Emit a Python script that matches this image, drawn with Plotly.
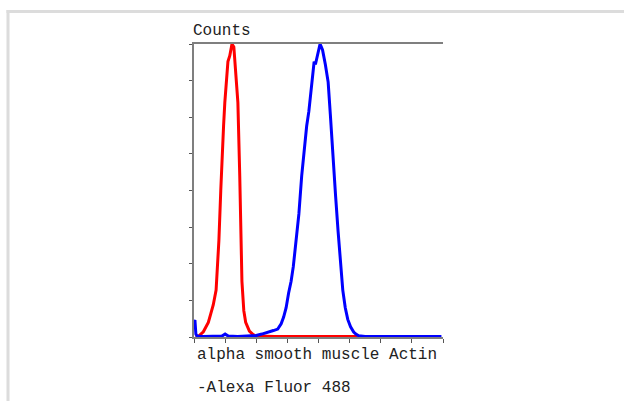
import plotly.graph_objects as go

# Fluorescence channel (arbitrary units, 8 decades on axis) and % of max counts
red_x = [0.05, 0.15, 0.30, 0.38, 0.46, 0.54, 0.62, 0.71, 0.80, 0.86, 0.90, 0.95, 0.99, 1.04, 1.09,
         1.15, 1.22, 1.28, 1.32, 1.35, 1.41, 1.47, 1.54, 1.60, 1.66, 1.78, 1.90, 2.00, 2.20, 2.60,
         3.00, 3.50, 4.00, 4.50, 5.00, 5.26]
red_y = [0.0, 0.3, 1.8, 3.4, 5.0, 8.0, 11.0, 16.0, 33.0, 50.0, 62.0, 72.0, 80.0, 88.0, 94.0,
         96.0, 100.0, 99.0, 94.0, 88.0, 80.0, 55.0, 19.0, 9.0, 5.0, 2.0, 0.8, 0.3, 0.2, 0.2,
         0.2, 0.2, 0.2, 0.2, 0.2, 0.2]

blue_x = [0.00, 0.03, 0.06, 0.10, 0.30, 0.60, 0.90, 1.00, 1.10, 1.40, 1.80, 2.00, 2.18, 2.40,
          2.55, 2.69, 2.80, 2.88, 2.96, 3.04, 3.12, 3.19, 3.28, 3.37, 3.46, 3.56, 3.62, 3.69,
          3.78, 3.86, 3.90, 3.94, 3.99, 4.05, 4.09, 4.13, 4.22, 4.31, 4.38, 4.46, 4.55, 4.63,
          4.70, 4.78, 4.86, 4.94, 5.03, 5.13, 5.20, 5.29, 5.50, 6.00, 6.50, 7.00, 7.50, 7.95]
blue_y = [5.0, 5.8, 1.0, 0.3, 0.2, 0.2, 0.3, 1.0, 0.3, 0.2, 0.3, 0.5, 1.0, 1.6,
          2.2, 2.7, 4.5, 6.8, 10.0, 15.0, 19.0, 24.0, 32.0, 42.0, 55.0, 67.0, 72.0, 77.0,
          86.0, 94.0, 93.0, 95.0, 97.0, 100.0, 99.0, 98.0, 93.0, 87.0, 76.0, 61.0, 48.0, 36.0,
          26.0, 16.0, 10.0, 6.0, 3.5, 1.7, 1.0, 0.4, 0.2, 0.2, 0.2, 0.2, 0.2, 0.2]

x_title_lines = ["alpha smooth muscle Actin", "-Alexa Fluor 488"]
y_title = "Counts"

FONT = "Liberation Mono"

fig = go.Figure()
fig.add_trace(go.Scatter(x=red_x, y=red_y, mode="lines",
                         line=dict(color="#ff0000", width=3), showlegend=False))
fig.add_trace(go.Scatter(x=blue_x, y=blue_y, mode="lines",
                         line=dict(color="#0000ff", width=3), showlegend=False))

L, R, T, B = 194, 181, 44, 64
W, H = 624, 401
pw, ph = W - L - R, H - T - B

def px(x):
    return (x - L) / pw

def py(y):
    return (H - B - y) / ph

fig.update_layout(
    width=W, height=H,
    margin=dict(l=L, r=R, t=T, b=B),
    paper_bgcolor="white", plot_bgcolor="white",
    font=dict(family=FONT, size=16, color="#222222"),
    xaxis=dict(range=[0, 8], dtick=1, showgrid=False, zeroline=False,
               showline=True, linecolor="#7f7f7f", linewidth=2, mirror=True,
               ticks="outside", ticklen=4, tickcolor="#555555", tickwidth=1,
               showticklabels=False),
    yaxis=dict(range=[0, 100], dtick=12.5, showgrid=False, zeroline=False,
               showline=True, linecolor="#7f7f7f", linewidth=2,
               ticks="outside", ticklen=3, tickcolor="#555555", tickwidth=1,
               showticklabels=False),
    annotations=[
        dict(text=y_title, xref="paper", yref="paper", x=px(191), y=py(42),
             xanchor="left", yanchor="bottom", showarrow=False,
             font=dict(family=FONT, size=16, color="#222222")),
        dict(text=x_title_lines[0], xref="paper", yref="paper", x=px(195), y=py(355),
             xanchor="left", yanchor="middle", showarrow=False,
             font=dict(family=FONT, size=16, color="#222222")),
        dict(text=x_title_lines[1], xref="paper", yref="paper", x=px(195), y=py(388),
             xanchor="left", yanchor="middle", showarrow=False,
             font=dict(family=FONT, size=16, color="#222222")),
    ],
    shapes=[
        dict(type="line", xref="paper", yref="paper", x0=px(6.5), x1=px(630),
             y0=py(11.5), y1=py(11.5), line=dict(color="#dcdcdc", width=3)),
        dict(type="line", xref="paper", yref="paper", x0=px(8), x1=px(8),
             y0=py(10), y1=py(410), line=dict(color="#dcdcdc", width=3)),
    ],
)

fig.write_html(
    "out.html",
    config={"displayModeBar": False},
    post_script="document.body.style.margin='0';document.body.style.padding='0';document.body.style.overflow='hidden';",
)
